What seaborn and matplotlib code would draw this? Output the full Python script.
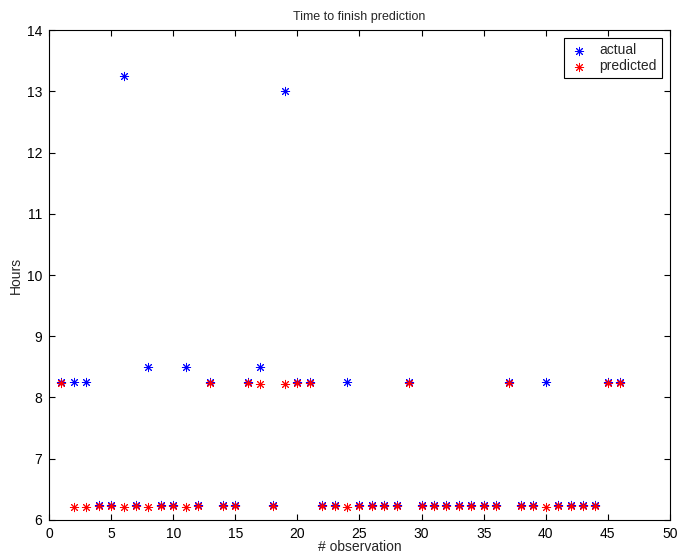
import numpy as np
import pandas as pd
import matplotlib
matplotlib.use("Agg")
import matplotlib.pyplot as plt
import seaborn as sns

# observation index
observation = list(range(1, 47))

# actual hours taken
actual = [8.25, 8.25, 8.25, 6.25, 6.25, 13.25, 6.25, 8.5, 6.25, 6.25,
          8.5, 6.25, 8.25, 6.25, 6.25, 8.25, 8.5, 6.25, 13.0, 8.25,
          8.25, 6.25, 6.25, 8.25, 6.25, 6.25, 6.25, 6.25, 8.25, 6.25,
          6.25, 6.25, 6.25, 6.25, 6.25, 6.25, 8.25, 6.25, 6.25, 8.25,
          6.25, 6.25, 6.25, 6.25, 8.25, 8.25]

# predicted hours
predicted = [8.23, 6.22, 6.22, 6.23, 6.23, 6.22, 6.23, 6.22, 6.23, 6.23,
             6.22, 6.23, 8.23, 6.23, 6.23, 8.23, 8.22, 6.23, 8.22, 8.23,
             8.23, 6.23, 6.23, 6.22, 6.23, 6.23, 6.23, 6.23, 8.23, 6.23,
             6.23, 6.23, 6.23, 6.23, 6.23, 6.23, 8.23, 6.23, 6.23, 6.22,
             6.23, 6.23, 6.23, 6.23, 8.23, 8.23]

df = pd.DataFrame({"observation": observation, "actual": actual, "predicted": predicted})

sns.set_style("ticks")
plt.rcParams['font.family'] = ['Liberation Sans', 'DejaVu Sans']
plt.rcParams['font.size'] = 10

fig = plt.figure(figsize=(6.79, 5.54), dpi=100)
ax = fig.add_axes([0.0722, 0.0614, 0.9145, 0.8844])

asterisk = (8, 2, 0)
sns.scatterplot(data=df, x="observation", y="actual", ax=ax, marker=asterisk,
                color="#0000ff", edgecolor="#0000ff", s=36, linewidth=0.7, label="actual")
sns.scatterplot(data=df, x="observation", y="predicted", ax=ax, marker=asterisk,
                color="#ff0000", edgecolor="#ff0000", s=36, linewidth=0.7, label="predicted")

ax.set_xlim(0, 50)
ax.set_ylim(6, 14)
ax.set_xticks(np.arange(0, 51, 5))
ax.set_yticks(np.arange(6, 15, 1))
ax.tick_params(direction="in", top=True, right=True, length=4, width=0.8,
               labelsize=10, colors="black", pad=5)
for sp in ax.spines.values():
    sp.set_visible(True)
    sp.set_linewidth(0.8)
    sp.set_color("black")

ax.set_title("Time to finish prediction", fontsize=9, pad=7)
ax.set_xlabel("# observation", fontsize=10, labelpad=-1)
ax.set_ylabel("Hours", fontsize=10, labelpad=3)

leg = ax.legend(loc="upper right", fancybox=False, framealpha=1, edgecolor="black",
                fontsize=10, handletextpad=0.8, borderpad=0.35, labelspacing=0.15,
                handlelength=1.4, borderaxespad=0.6)
leg.get_frame().set_linewidth(0.8)

fig.savefig("out.png", dpi=100)
